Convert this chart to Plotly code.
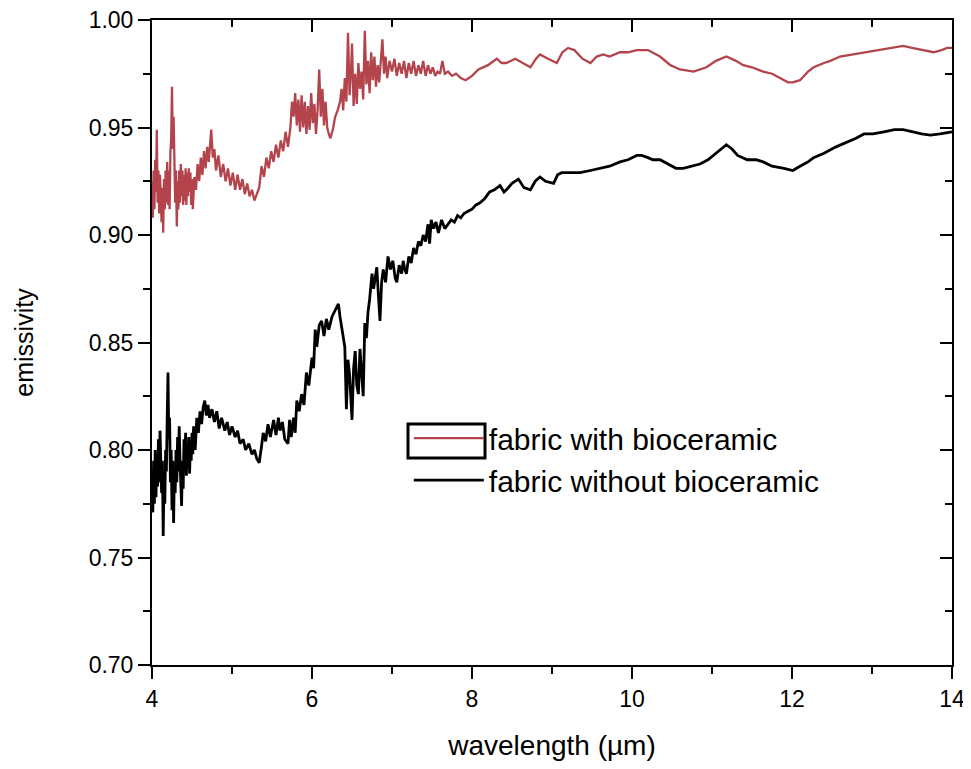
import plotly.graph_objects as go

# ---- data ----
wl_with = [4.00, 4.01, 4.02, 4.03, 4.04, 4.05, 4.06, 4.07, 4.08, 4.09,
           4.10, 4.11, 4.12, 4.13, 4.14, 4.15, 4.16, 4.17, 4.18, 4.19,
           4.20, 4.21, 4.22, 4.23, 4.24, 4.25, 4.26, 4.27, 4.28, 4.29,
           4.30, 4.31, 4.32, 4.33, 4.34, 4.35, 4.36, 4.37, 4.38, 4.39,
           4.40, 4.41, 4.42, 4.43, 4.44, 4.45, 4.46, 4.47, 4.48, 4.49,
           4.50, 4.51,
           4.53, 4.55, 4.57, 4.59, 4.61,
           4.63, 4.65, 4.67, 4.69, 4.71, 4.74, 4.76, 4.78, 4.80, 4.83, 4.86, 4.89, 4.92, 4.95, 4.98, 5.01,
           5.04, 5.07, 5.10, 5.13, 5.16, 5.19, 5.22, 5.25, 5.28, 5.31, 5.34, 5.37, 5.40, 5.43, 5.46, 5.49,
           5.52, 5.55, 5.58, 5.61, 5.64, 5.67, 5.70, 5.73, 5.75, 5.77, 5.79, 5.81, 5.83, 5.85, 5.87, 5.89,
           5.91, 5.93, 5.95, 5.97, 5.99, 6.01, 6.03, 6.05, 6.07, 6.09, 6.11, 6.13, 6.15, 6.17, 6.19, 6.21,
           6.23, 6.26, 6.29, 6.32, 6.35, 6.37, 6.39, 6.41, 6.43, 6.45, 6.47, 6.49, 6.50, 6.52, 6.54, 6.56,
           6.58, 6.60, 6.62, 6.64, 6.66, 6.68, 6.70, 6.72, 6.74, 6.76, 6.78, 6.80, 6.82, 6.84, 6.86, 6.88,
           6.90, 6.92, 6.94, 6.97, 7.00, 7.03, 7.06, 7.09, 7.12, 7.15, 7.18, 7.21, 7.24, 7.27, 7.30, 7.33,
           7.36, 7.39, 7.42, 7.45, 7.48, 7.51, 7.54, 7.57, 7.60, 7.63, 7.66, 7.70, 7.75, 7.80, 7.86, 7.92,
           8.00, 8.08, 8.20, 8.31, 8.37, 8.43, 8.54, 8.63, 8.73, 8.80, 8.85, 8.95, 9.06, 9.13, 9.20, 9.28,
           9.38, 9.48, 9.56, 9.64, 9.72, 9.85, 9.95, 10.06, 10.20, 10.35, 10.48, 10.60, 10.77, 10.93, 11.05,
           11.18, 11.30, 11.39, 11.50, 11.64, 11.75, 11.85, 11.95, 12.01, 12.10, 12.20, 12.27, 12.40, 12.48,
           12.60, 12.77, 12.90, 13.10, 13.25, 13.39, 13.50, 13.62, 13.77, 13.87, 13.94, 14.00]
em_with = [0.925, 0.908, 0.930, 0.912, 0.935, 0.920, 0.949, 0.915, 0.930, 0.910,
           0.928, 0.912, 0.906, 0.922, 0.901, 0.926, 0.912, 0.930, 0.915, 0.934,
           0.914, 0.930, 0.912, 0.938, 0.945, 0.969, 0.940, 0.955, 0.925, 0.915,
           0.930, 0.904, 0.925, 0.912, 0.930, 0.915, 0.933, 0.918, 0.930, 0.914,
           0.928, 0.916, 0.931, 0.914, 0.929, 0.918, 0.931, 0.920, 0.929, 0.914,
           0.926, 0.912,
           0.927, 0.921, 0.933, 0.925, 0.936,
           0.928, 0.939, 0.931, 0.941, 0.934, 0.949, 0.936, 0.940, 0.930, 0.937, 0.927, 0.933, 0.925, 0.931, 0.923, 0.929,
           0.921, 0.928, 0.921, 0.926, 0.919, 0.924, 0.918, 0.921, 0.916, 0.919, 0.922, 0.932, 0.927, 0.936, 0.931, 0.939,
           0.934, 0.942, 0.936, 0.944, 0.939, 0.948, 0.941, 0.950, 0.962, 0.955, 0.966, 0.951, 0.963, 0.948, 0.965, 0.950,
           0.962, 0.947, 0.960, 0.949, 0.966, 0.952, 0.961, 0.947, 0.958, 0.977, 0.955, 0.968, 0.951, 0.962, 0.950, 0.947,
           0.945, 0.949, 0.955, 0.958, 0.962, 0.968, 0.958, 0.973, 0.962, 0.994, 0.965, 0.978, 0.989, 0.960, 0.975, 0.961,
           0.980, 0.968, 0.976, 0.963, 0.995, 0.970, 0.981, 0.966, 0.985, 0.972, 0.983, 0.969, 0.979, 0.971, 0.980, 0.991,
           0.975, 0.983, 0.973, 0.981, 0.976, 0.982, 0.974, 0.980, 0.975, 0.981, 0.973, 0.980, 0.975, 0.981, 0.974, 0.979,
           0.975, 0.981, 0.974, 0.979, 0.975, 0.978, 0.974, 0.976, 0.975, 0.981, 0.975, 0.976, 0.974, 0.975, 0.973, 0.972,
           0.974, 0.977, 0.979, 0.982, 0.980, 0.980, 0.982, 0.980, 0.978, 0.982, 0.984, 0.982, 0.980, 0.985, 0.987, 0.986,
           0.982, 0.980, 0.983, 0.984, 0.983, 0.985, 0.985, 0.986, 0.986, 0.983, 0.979, 0.977, 0.976, 0.978, 0.981,
           0.983, 0.981, 0.979, 0.978, 0.976, 0.975, 0.973, 0.971, 0.971, 0.972, 0.976, 0.978, 0.980, 0.981,
           0.983, 0.984, 0.985, 0.986, 0.987, 0.988, 0.987, 0.986, 0.985, 0.986, 0.987, 0.987]

wl_without = [4.00, 4.01, 4.02, 4.03, 4.04, 4.05, 4.06, 4.07, 4.08, 4.09,
              4.10, 4.11, 4.12, 4.13, 4.14, 4.15, 4.16, 4.17, 4.18, 4.19,
              4.20, 4.21, 4.22, 4.23, 4.24, 4.25, 4.26, 4.27, 4.28, 4.29,
              4.30, 4.31, 4.32, 4.33, 4.34, 4.35, 4.36, 4.37, 4.38, 4.39,
              4.40, 4.41, 4.42, 4.43, 4.44, 4.45, 4.46, 4.47, 4.48, 4.49,
              4.50, 4.51, 4.52,
              4.54, 4.56, 4.58, 4.60, 4.62,
              4.64, 4.66, 4.68, 4.70, 4.72, 4.75, 4.78, 4.81, 4.84, 4.87, 4.91, 4.94, 4.97, 5.00, 5.04, 5.07,
              5.10, 5.14, 5.17, 5.21, 5.25, 5.28, 5.31, 5.34, 5.37, 5.39, 5.42, 5.45, 5.48, 5.52, 5.55, 5.58,
              5.60, 5.63, 5.66, 5.70, 5.72, 5.74, 5.77, 5.79, 5.81, 5.84, 5.87, 5.90, 5.93, 5.96, 6.00, 6.02,
              6.04, 6.06, 6.09, 6.12, 6.15, 6.18, 6.21, 6.25, 6.29, 6.33, 6.35, 6.37, 6.39, 6.41, 6.43, 6.45,
              6.47, 6.50, 6.52, 6.54, 6.56, 6.58, 6.60, 6.62, 6.64, 6.66, 6.68, 6.70, 6.72, 6.75, 6.77, 6.79,
              6.81, 6.83, 6.85, 6.87, 6.89, 6.92, 6.95, 6.98, 7.01, 7.04, 7.06, 7.09, 7.12, 7.14, 7.16, 7.18,
              7.21, 7.24, 7.27, 7.30, 7.33, 7.36, 7.39, 7.42, 7.45, 7.47, 7.49, 7.52, 7.55, 7.58, 7.62, 7.66,
              7.70, 7.74, 7.78, 7.82, 7.86, 7.90, 7.95, 8.00, 8.05, 8.10, 8.16, 8.22, 8.28, 8.35, 8.40, 8.43,
              8.50, 8.58, 8.65, 8.73, 8.79, 8.85, 8.92, 9.02, 9.07, 9.12, 9.20, 9.35, 9.48, 9.60, 9.72, 9.85,
              9.95, 10.06, 10.12, 10.20, 10.26, 10.35, 10.45, 10.55, 10.64, 10.75, 10.85, 10.95, 11.05, 11.12,
              11.18, 11.25, 11.32, 11.44, 11.55, 11.64, 11.75, 11.90, 12.01, 12.10, 12.20, 12.27, 12.40, 12.55,
              12.68, 12.80, 12.90, 13.01, 13.15, 13.28, 13.39, 13.50, 13.62, 13.73, 13.85, 14.00]
em_without = [0.785, 0.771, 0.795, 0.775, 0.800, 0.778, 0.798, 0.783, 0.805, 0.785,
              0.809, 0.790, 0.780, 0.795, 0.760, 0.788, 0.775, 0.800, 0.790, 0.815,
              0.836, 0.805, 0.815, 0.785, 0.800, 0.772, 0.795, 0.766, 0.792, 0.780,
              0.800, 0.785, 0.806, 0.790, 0.811, 0.795, 0.785, 0.774, 0.795, 0.782,
              0.805, 0.795, 0.808, 0.788, 0.802, 0.792, 0.806, 0.789, 0.803, 0.795,
              0.808, 0.798, 0.811,
              0.800, 0.815, 0.808, 0.818, 0.812,
              0.820, 0.823, 0.816, 0.821, 0.815, 0.819, 0.813, 0.818, 0.810, 0.815, 0.809, 0.813, 0.807, 0.811, 0.806, 0.809,
              0.803, 0.805, 0.800, 0.803, 0.798, 0.800, 0.796, 0.794, 0.802, 0.808, 0.804, 0.812, 0.806, 0.814, 0.807, 0.815,
              0.809, 0.813, 0.805, 0.803, 0.814, 0.806, 0.815, 0.808, 0.823, 0.818, 0.826, 0.821, 0.836, 0.830, 0.843, 0.838,
              0.856, 0.848, 0.858, 0.860, 0.853, 0.861, 0.856, 0.862, 0.865, 0.868, 0.862, 0.857, 0.851, 0.848, 0.819, 0.842,
              0.835, 0.814, 0.838, 0.846, 0.830, 0.826, 0.847, 0.838, 0.825, 0.859, 0.852, 0.864, 0.870, 0.882, 0.875, 0.880,
              0.885, 0.872, 0.860, 0.878, 0.884, 0.878, 0.890, 0.884, 0.888, 0.880, 0.878, 0.886, 0.882, 0.888, 0.884, 0.882,
              0.890, 0.887, 0.894, 0.891, 0.897, 0.895, 0.900, 0.897, 0.905, 0.896, 0.907, 0.903, 0.906, 0.901, 0.907, 0.903,
              0.905, 0.907, 0.906, 0.909, 0.908, 0.910, 0.911, 0.912, 0.914, 0.915, 0.917, 0.920, 0.921, 0.923, 0.920, 0.921,
              0.924, 0.926, 0.922, 0.921, 0.925, 0.927, 0.925, 0.924, 0.928, 0.929, 0.929, 0.929, 0.930, 0.931, 0.932, 0.934,
              0.935, 0.937, 0.937, 0.936, 0.935, 0.935, 0.933, 0.931, 0.931, 0.932, 0.933, 0.935, 0.938, 0.940,
              0.942, 0.940, 0.937, 0.935, 0.935, 0.934, 0.932, 0.931, 0.930, 0.932, 0.934, 0.936, 0.938, 0.941,
              0.943, 0.945, 0.947, 0.947, 0.948, 0.949, 0.949, 0.948, 0.947, 0.9465, 0.947, 0.948]

series_names = ["fabric with bioceramic", "fabric without bioceramic"]
x_ticks = [4, 6, 8, 10, 12, 14]
y_ticks = [0.70, 0.75, 0.80, 0.85, 0.90, 0.95, 1.00]

RED = "#b3444c"
FONT = "Liberation Sans, Arial, sans-serif"

fig = go.Figure()
fig.add_trace(go.Scatter(x=wl_with, y=em_with, mode="lines", name=series_names[0],
                         line=dict(color=RED, width=2.3)))
fig.add_trace(go.Scatter(x=wl_without, y=em_without, mode="lines", name=series_names[1],
                         line=dict(color="black", width=2.8)))
# empty trace to create the mirrored top/right axes (inward ticks)
fig.add_trace(go.Scatter(x=[], y=[], xaxis="x2", yaxis="y2", showlegend=False, hoverinfo="skip"))

axis_common = dict(showgrid=False, zeroline=False, linecolor="black", linewidth=2,
                   tickcolor="black", tickwidth=2, ticklen=12, automargin=False,
                   ticklabeloverflow="allow")

# the page body has an 8px margin, so the figure starts at (8, 8) in the window
fig.update_layout(
    width=963, height=761,
    margin=dict(l=144, r=19, t=12, b=104),
    paper_bgcolor="white", plot_bgcolor="white",
    font=dict(family=FONT, color="black"),
    showlegend=True,
    legend=dict(x=0.321, y=0.392, xanchor="left", yanchor="top",
                font=dict(size=30, family=FONT, color="black"),
                bgcolor="rgba(0,0,0,0)", borderwidth=0, itemwidth=70,
                tracegroupgap=0),
    xaxis=dict(range=[4, 14], tickvals=x_ticks, ticktext=[str(v) for v in x_ticks],
               ticks="outside", showline=True, mirror=False,
               minor=dict(dtick=1, tick0=4, ticks="outside", ticklen=7, tickwidth=2, tickcolor="black"),
               tickfont=dict(size=23), title=dict(text="wavelength (\u00b5m)", font=dict(size=28), standoff=25),
               **axis_common),
    yaxis=dict(range=[0.70, 1.00], tickvals=y_ticks, ticktext=[f"{v:.2f}" for v in y_ticks],
               ticks="outside", showline=True, mirror=False,
               minor=dict(dtick=0.025, tick0=0.7, ticks="outside", ticklen=7, tickwidth=2, tickcolor="black"),
               tickfont=dict(size=23), title=dict(text="emissivity", font=dict(size=25), standoff=48),
               **axis_common),
    xaxis2=dict(range=[4, 14], overlaying="x", side="top", anchor="y2", tickvals=x_ticks,
                showticklabels=False, ticks="inside", showline=True, linecolor="black", linewidth=2,
                automargin=False,
                minor=dict(dtick=1, tick0=4, ticks="inside", ticklen=7, tickwidth=2, tickcolor="black"),
                showgrid=False, zeroline=False, tickcolor="black", tickwidth=2, ticklen=12),
    yaxis2=dict(range=[0.70, 1.00], overlaying="y", side="right", anchor="x2", tickvals=y_ticks,
                showticklabels=False, ticks="inside", showline=True, linecolor="black", linewidth=2,
                automargin=False,
                minor=dict(dtick=0.025, tick0=0.7, ticks="inside", ticklen=7, tickwidth=2, tickcolor="black"),
                showgrid=False, zeroline=False, tickcolor="black", tickwidth=2, ticklen=12),
    shapes=[dict(type="rect", xref="paper", yref="paper",
                 x0=0.32, x1=0.41625, y0=0.3209, y1=0.3736,
                 line=dict(color="black", width=3), fillcolor="rgba(0,0,0,0)")],
)

fig.write_html("out.html")
